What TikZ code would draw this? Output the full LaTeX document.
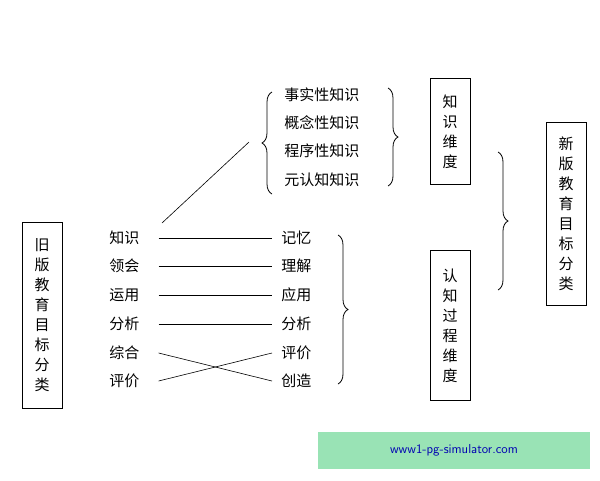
\documentclass[tikz,border=0pt]{standalone}
\usepackage{fontspec}
\setmainfont{Noto Sans CJK SC}
\usetikzlibrary{positioning}
\usetikzlibrary{decorations.pathreplacing}
\begin{document}
\begin{tikzpicture}[x=1pt,y=-1pt,semithick,
  every node/.style={font=\fontsize{15}{20}\selectfont,inner sep=1pt},
  item/.style={anchor=west},
  vbox/.style={draw,thick,align=center,minimum width=40pt},
  cbrace/.style={decorate,decoration={brace,amplitude=10pt},thick}]
  \useasboundingbox (0,0) rectangle (600,480);
  % left list
  \node[item] (k1) at (108,238){知识};
  \node[item] (k2) at (108,266){领会};
  \node[item] (k3) at (108,295){运用};
  \node[item] (k4) at (108,324){分析};
  \node[item] (k5) at (108,353){综合};
  \node[item] (k6) at (108,381){评价};
  % right list
  \node[item] (r1) at (280,238){记忆};
  \node[item] (r2) at (280,266){理解};
  \node[item] (r3) at (280,295){应用};
  \node[item] (r4) at (280,324){分析};
  \node[item] (r5) at (280,353){评价};
  \node[item] (r6) at (280,381){创造};
  % top list
  \node[item] (t1) at (283,95){事实性知识};
  \node[item] (t2) at (283,123){概念性知识};
  \node[item] (t3) at (283,151){程序性知识};
  \node[item] (t4) at (283,180){元认知知识};
  % boxes
  \node[vbox,minimum height=186pt] (old) at (42,315){旧\\版\\教\\育\\目\\标\\分\\类};
  \node[vbox,minimum height=106pt,anchor=north] (kd) at (450,78){知\\识\\维\\度};
  \node[vbox,minimum height=150pt,anchor=north] (cd) at (450,250){认\\知\\过\\程\\维\\度};
  \node[vbox,minimum height=183pt] (new) at (566,214){新\\版\\教\\育\\目\\标\\分\\类};
  % connectors
  \coordinate (tip) at (249,142);
  \draw (162,223) -- (tip);
  \foreach \i in {1,2,3,4}
    \draw ([xshift=18pt]k\i.east) -- ([xshift=-8pt]r\i.west);
  \draw ([xshift=18pt]k5.east) -- ([xshift=-8pt]r6.west);
  \draw ([xshift=18pt]k6.east) -- ([xshift=-8pt]r5.west);
  % braces
  \draw[cbrace] (272,194) -- (272,92);
  \draw[cbrace] (388,88) -- (388,186);
  \draw[cbrace] (338,235) -- (338,384);
  \draw[cbrace] (498,152) -- (498,290);
  % watermark
  \fill[green!45!teal!40] (318,432) rectangle (590,469);
  \node[font=\fontsize{13}{16}\selectfont\sffamily,text=blue!70!black] (wm) at (454,450){www1-pg-simulator.com};
\end{tikzpicture}
\end{document}
